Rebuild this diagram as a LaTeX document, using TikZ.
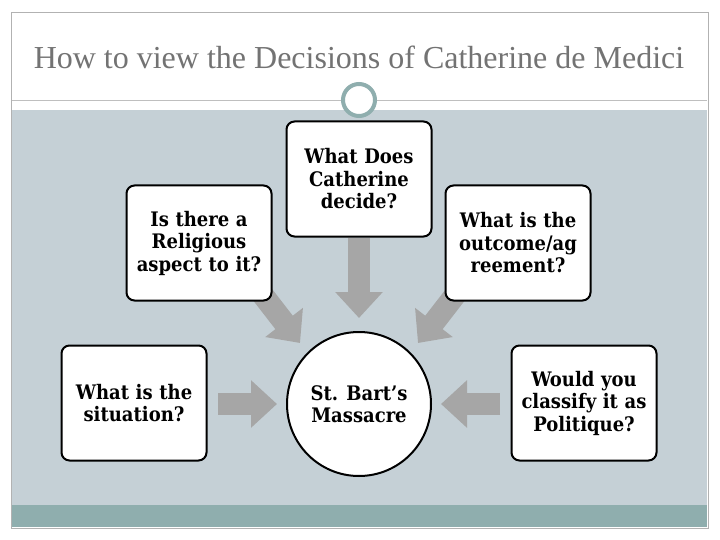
\documentclass[tikz,border=0pt]{standalone}
\usepackage{fontspec}
\setmainfont{DejaVu Serif}
\newfontfamily\boxfont{DejaVu Serif Condensed}
\newfontfamily\titlefont{Liberation Serif}
\usetikzlibrary{arrows.meta}
\definecolor{bgray}{HTML}{C5D0D6}
\definecolor{teal2}{HTML}{8FAEAE}
\definecolor{agray}{HTML}{A6A6A6}
\begin{document}
\begin{tikzpicture}[x=1pt,y=-1pt,
 bf/.style={font=\boxfont\bfseries\fontsize{20}{22.5}\selectfont},
 box/.style={bf,draw=black,line width=2pt,fill=white,rounded corners=8pt,minimum width=145pt,minimum height=115pt,align=center,text width=143pt,inner sep=0pt},
 blk/.style={draw=agray,line width=22pt,-{Triangle[width=46pt,length=26pt]}}]
\useasboundingbox (0,0) rectangle (720,540);
\fill[white] (0,0) rectangle (720,540);
\draw[gray!60,line width=0.8pt] (11,12) rectangle (708,528);
\fill[bgray] (12,110) rectangle (707,505);
\fill[teal2] (12,505) rectangle (707,527);
\draw[gray!50,line width=0.8pt] (12,100) -- (707,100);
\node[circle,draw=teal2,line width=4pt,fill=white,minimum size=32pt,inner sep=0pt] (dot) at (359,100) {};
\node[text=black!55,font=\titlefont\fontsize{32}{36}\selectfont] (title) at (359,57) {How to view the Decisions of Catherine de Medici};
\coordinate (s1) at (359,238); \coordinate (t1) at (359,318);
\coordinate (s2) at (245,272); \coordinate (t2) at (300,343);
\coordinate (s3) at (473,272); \coordinate (t3) at (418,343);
\coordinate (s4) at (218,404); \coordinate (t4) at (277,404);
\coordinate (s5) at (500,404); \coordinate (t5) at (441,404);
\draw[blk] (s1) -- (t1);
\draw[blk] (s2) -- (t2);
\draw[blk] (s3) -- (t3);
\draw[blk] (s4) -- (t4);
\draw[blk] (s5) -- (t5);
\node[box] (dec) at (359,179) {What Does\\Catherine\\decide?};
\node[box] (rel) at (199,243) {Is there a\\Religious\\aspect to it?};
\node[box] (out) at (518,243) {What is the\\outcome/ag\\reement?};
\node[box] (sit) at (134,403) {What is the\\situation?};
\node[box] (pol) at (584,403) {Would you\\classify it as\\Politique?};
\node[bf,circle,draw=black,line width=2pt,fill=white,minimum size=144pt,inner sep=0pt,align=center] (bart) at (359,404) {St. Bart’s\\Massacre};
\end{tikzpicture}
\end{document}
